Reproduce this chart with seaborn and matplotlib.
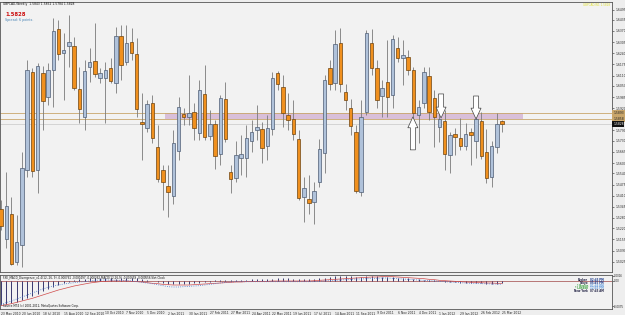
import matplotlib
matplotlib.use("Agg")
import matplotlib.pyplot as plt
import matplotlib.transforms as mtransforms
import numpy as np
import pandas as pd
import seaborn as sns

# GBPCAD weekly candles, 23 May 2010 .. 25 Mar 2012
opens = [1.5333, 1.5158, 1.5303, 1.5024, 1.5123, 1.5560, 1.6131, 1.5560, 1.6125, 1.5985,
         1.6143, 1.6382, 1.6242, 1.6283, 1.6283, 1.6032, 1.5869, 1.6160, 1.6195, 1.6096,
         1.6096, 1.6155, 1.6067, 1.6341, 1.6190, 1.6306, 1.6236, 1.5840, 1.5805, 1.5951,
         1.5694, 1.5560, 1.5467, 1.5408, 1.5671, 1.5886, 1.5869, 1.5898, 1.5776, 1.6003,
         1.5758, 1.5828, 1.5653, 1.5974, 1.5548, 1.5513, 1.5630, 1.5630, 1.5729, 1.5793,
         1.5799, 1.5700, 1.5799, 1.6125, 1.6044, 1.5881, 1.5857, 1.5741, 1.5403, 1.5391,
         1.5373, 1.5490, 1.5659, 1.6155, 1.6067, 1.6300, 1.6015, 1.5921, 1.5781, 1.5432,
         1.5898, 1.6300, 1.6155, 1.5991, 1.6073, 1.5997, 1.6271, 1.6213, 1.6219, 1.6143,
         1.5881, 1.5951, 1.6108, 1.5980, 1.5811, 1.5846, 1.5647, 1.5770, 1.5747, 1.5700,
         1.5781, 1.5729, 1.5846, 1.5665, 1.5519, 1.5694, 1.5843]
highs = [1.5385, 1.5548, 1.5403, 1.5298, 1.5665, 1.6201, 1.6155, 1.6184, 1.6166, 1.6184,
         1.6446, 1.6434, 1.6359, 1.6464, 1.6335, 1.6160, 1.6201, 1.6271, 1.6417, 1.6155,
         1.6190, 1.6213, 1.6394, 1.6405, 1.6405, 1.6388, 1.6329, 1.6009, 1.5968, 1.5997,
         1.5822, 1.5589, 1.5589, 1.5793, 1.5985, 1.5921, 1.6114, 1.5951, 1.6085, 1.6172,
         1.5910, 1.5851, 1.5997, 1.6073, 1.5589, 1.5729, 1.5764, 1.5822, 1.5851, 1.5939,
         1.5840, 1.5881, 1.6131, 1.6137, 1.6114, 1.6009, 1.5968, 1.5793, 1.5519, 1.5531,
         1.5490, 1.5741, 1.6114, 1.6201, 1.6376, 1.6388, 1.6061, 1.5974, 1.5822, 1.5968,
         1.6376, 1.6382, 1.6201, 1.6085, 1.6318, 1.6347, 1.6335, 1.6318, 1.6260, 1.6160,
         1.5968, 1.6160, 1.6160, 1.6026, 1.5898, 1.5910, 1.5781, 1.5805, 1.5863, 1.5834,
         1.5805, 1.5910, 1.5898, 1.5799, 1.5729, 1.5892, 1.5852]
lows = [1.5210, 1.5105, 1.5006, 1.5006, 1.4994, 1.5519, 1.5519, 1.5426, 1.5793, 1.5939,
        1.5927, 1.6201, 1.5968, 1.6160, 1.6026, 1.5834, 1.5793, 1.6073, 1.6102, 1.6067,
        1.5834, 1.6067, 1.6009, 1.6085, 1.6172, 1.6201, 1.5869, 1.5618, 1.5781, 1.5717,
        1.5490, 1.5327, 1.5286, 1.5362, 1.5618, 1.5822, 1.5822, 1.5735, 1.5735, 1.5735,
        1.5735, 1.5566, 1.5589, 1.5723, 1.5426, 1.5490, 1.5531, 1.5519, 1.5665, 1.5735,
        1.5601, 1.5618, 1.5764, 1.6026, 1.5811, 1.5793, 1.5735, 1.5385, 1.5257, 1.5303,
        1.5245, 1.5461, 1.5542, 1.6026, 1.6026, 1.6015, 1.5910, 1.5764, 1.5426, 1.5408,
        1.5881, 1.6114, 1.5921, 1.5869, 1.5869, 1.5921, 1.6190, 1.6055, 1.6114, 1.5863,
        1.5717, 1.5921, 1.5851, 1.5694, 1.5723, 1.5560, 1.5542, 1.5647, 1.5677, 1.5677,
        1.5589, 1.5630, 1.5624, 1.5484, 1.5461, 1.5659, 1.5784]
closes = [1.5233, 1.5350, 1.5012, 1.5140, 1.5572, 1.6143, 1.5554, 1.6166, 1.5962, 1.6143,
          1.6370, 1.6236, 1.6260, 1.6306, 1.6038, 1.5916, 1.6137, 1.6190, 1.6120, 1.6125,
          1.6143, 1.6079, 1.6341, 1.6172, 1.6300, 1.6242, 1.5916, 1.5828, 1.5945, 1.5747,
          1.5507, 1.5490, 1.5432, 1.5717, 1.5927, 1.5869, 1.5892, 1.5805, 1.6026, 1.5752,
          1.5828, 1.5642, 1.5980, 1.5741, 1.5507, 1.5647, 1.5653, 1.5747, 1.5781, 1.5811,
          1.5688, 1.5805, 1.6096, 1.6061, 1.5892, 1.5851, 1.5770, 1.5397, 1.5455, 1.5368,
          1.5438, 1.5682, 1.6085, 1.6061, 1.6294, 1.6061, 1.5968, 1.5816, 1.5438, 1.5869,
          1.6359, 1.6155, 1.5968, 1.6038, 1.5985, 1.6324, 1.6213, 1.6230, 1.6143, 1.5892,
          1.5927, 1.6131, 1.5898, 1.5869, 1.5857, 1.5653, 1.5764, 1.5752, 1.5700, 1.5770,
          1.5764, 1.5857, 1.5642, 1.5513, 1.5700, 1.5828, 1.5828]

# MACD divergence sub-window (units of 0.001)
macd_hist = [-7.2, -7.0, -6.7, -6.3, -5.8, -5.2, -4.5, -3.8, -3.1, -2.4, -1.8, -1.2, -0.7,
             -0.3, 0.2, 0.5, 0.7, 0.8, 0.9, 0.9, 0.8, 0.8, 0.7, 0.8, 0.9, 0.9, 0.8, 0.6, 0.4, 0.1,
             -0.3, -0.6, -0.9, -1.0, -1.0, -0.9, -0.8, -0.7, -0.6, -0.4, -0.2,
             0.2, 0.3, 0.4, 0.4, 0.3, 0.3, 0.4, 0.5, 0.5, 0.6, 0.6, 0.7, 0.8, 0.8, 0.8, 0.7, 0.6, 0.5, 0.5, 0.6,
             0.8, 1.0, 1.2, 1.4, 1.5, 1.5, 1.4, 1.3, 1.3, 1.4, 1.5, 1.4, 1.3, 1.2, 1.1, 1.0, 0.9, 0.8, 0.6, 0.5,
             0.4, 0.3, 0.2, 0.0, -0.2, -0.3, -0.4, -0.5, -0.5, -0.6, -0.6, -0.7, -0.8, -0.8, -0.8, -0.7]
macd_main = [-7.0, -6.5, -6.0, -5.4, -4.8, -4.2, -3.6, -3.0, -2.4, -1.9,
             -1.5, -1.2, -0.9, -0.7, -0.5, -0.3, -0.2, 0.0, 0.2, 0.3,
             0.3, 0.3, 0.2, 0.2, 0.1, 0.0, -0.2, -0.4, -0.6, -0.8,
             -1.1, -1.4, -1.7, -1.8, -1.8, -1.7, -1.6, -1.5, -1.4, -1.2,
             -1.0, -0.8, -0.6, -0.4, -0.3, -0.2, -0.2, -0.2, -0.2, -0.2,
             -0.2, -0.2, -0.2, -0.2, -0.2, -0.2, -0.2, -0.2, -0.2, -0.2,
             -0.2, -0.1, 0.0, 0.1, 0.2, 0.3, 0.4, 0.5, 0.6, 0.6,
             0.7, 0.8, 0.8, 0.9, 0.9, 0.8, 0.7, 0.6, 0.5, 0.4,
             0.3, 0.2, 0.1, 0.0, -0.1, -0.2, -0.3, -0.4, -0.5, -0.6,
             -0.7, -0.7, -0.8, -0.8, -0.9, -0.9, -1.0]
macd_signal = [-7.4, -7.1, -6.8, -6.4, -6.0, -5.6, -5.2, -4.7, -4.2, -3.7,
               -3.2, -2.7, -2.3, -1.9, -1.5, -1.2, -0.9, -0.6, -0.4, -0.2,
               -0.1, 0.0, 0.0, 0.0, 0.0, -0.1, -0.2, -0.3, -0.5, -0.7,
               -0.8, -1.0, -1.1, -1.2, -1.2, -1.2, -1.2, -1.1, -1.0, -0.9,
               -0.8, -0.7, -0.6, -0.5, -0.4, -0.3, -0.3, -0.2, -0.2, -0.1,
               -0.1, -0.1, 0.0, 0.0, 0.0, 0.0, 0.0, 0.0, 0.0, 0.0,
               0.1, 0.2, 0.3, 0.4, 0.5, 0.6, 0.7, 0.8, 0.9, 1.0,
               1.1, 1.2, 1.2, 1.3, 1.3, 1.3, 1.2, 1.1, 1.0, 0.9,
               0.8, 0.7, 0.5, 0.4, 0.2, 0.1, 0.0, -0.1, -0.2, -0.3,
               -0.4, -0.5, -0.5, -0.6, -0.6, -0.7, -0.7]

price_ticks = [1.6495, 1.6435, 1.6370, 1.6305, 1.6240, 1.6175, 1.6110, 1.6050, 1.5985,
               1.5920, 1.5790, 1.5730, 1.5665, 1.5600, 1.5540, 1.5475, 1.5410, 1.5345,
               1.5280, 1.5220, 1.5155, 1.5090, 1.5025]
zone_high, zone_low = 1.5893, 1.5858
last_price = 1.5828
zone_span = (31.5, 100.0)  # weeks covered by the shaded zone

# hand-drawn arrows: week, tail price, tip price
arrow_week = [78.9, 84.3, 91.0]
arrow_tail = [1.5677, 1.6003, 1.5991]
arrow_tip = [1.5869, 1.5863, 1.5857]

weeks = pd.date_range("2010-05-23", periods=len(opens), freq="7D")
date_ticks = list(range(0, len(opens), 4))
date_labels = [f"{weeks[i].day} {weeks[i]:%b %Y}" for i in date_ticks]

sns.set_theme(style="white", rc={"axes.facecolor": "#f2f2f2", "figure.facecolor": "#eeeeee"})
plt.rcParams["font.family"] = ["DejaVu Sans"]

W, H = 625, 315
fig = plt.figure(figsize=(W / 100, H / 100), dpi=100)
ax = fig.add_axes([0, 43 / H, 612 / W, 270 / H])
ax2 = fig.add_axes([0, 6 / H, 612 / W, 34 / H])

x = np.arange(len(opens))
o, h, l, c = (np.array(a) for a in (opens, highs, lows, closes))
up = c > o

# zone + levels
ax.fill_between(zone_span, zone_low, zone_high, color="#d9bfd9", lw=0, zorder=1)
for lvl in (zone_high, zone_low):
    ax.axhline(lvl, color="#c9a66b", lw=0.6, zorder=1.5)
ax.axhline(last_price, color="#c8c8c8", lw=0.5, zorder=1.2)

# candles
ax.vlines(x, l, h, color="#7a7a7a", lw=0.6, zorder=2)
ax.bar(x[up], (c - o)[up], bottom=o[up], width=0.66, color="#b0c2da",
       edgecolor="#4e5d74", lw=0.5, zorder=3)
ax.bar(x[~up], np.maximum((o - c)[~up], 0.0002), bottom=c[~up], width=0.66,
       color="#f0901e", edgecolor="#6e4410", lw=0.5, zorder=3)

for xw, ytail, ytip in zip(arrow_week, arrow_tail, arrow_tip):
    ax.annotate("", xy=(xw, ytip), xytext=(xw, ytail), zorder=4,
                arrowprops=dict(arrowstyle="simple,head_length=1.3,head_width=1.2,tail_width=0.6",
                                fc="white", ec="#444444", lw=0.5, mutation_scale=6,
                                shrinkA=0, shrinkB=0))

ax.set_xlim(-0.2, 117.05)
ax.set_ylim(1.4965, 1.6539)
ax.set_xticks([])
ax.yaxis.tick_right()
ax.set_yticks(price_ticks)
ax.set_yticklabels([f"{v:.4f}" for v in price_ticks], fontsize=2.2)
ax.tick_params(axis="y", length=1.5, width=0.4, pad=0.8, colors="#222222")
for s in ax.spines.values():
    s.set_color("#555555")
    s.set_linewidth(0.6)

# right-axis price boxes
tr = mtransforms.blended_transform_factory(ax.transAxes, ax.transData)
for val, fc, tc in ((zone_high, "#c9a66b", "#222222"), (zone_low, "#c9a66b", "#222222"),
                    (last_price, "#111111", "white")):
    ax.text(1.002, val, f"{val:.4f}", transform=tr, fontsize=2.2, color=tc, va="center",
            ha="left", bbox=dict(boxstyle="square,pad=0.25", fc=fc, ec="none"), clip_on=False)

# indicator window
ax2.axhline(0, color="#8b1a1a", lw=0.4)
ax2.vlines(x, 0, macd_hist, color="#1c1c5a", lw=0.6)
sns.lineplot(x=x, y=macd_signal, ax=ax2, color="#d04a4a", lw=0.5)
sns.lineplot(x=x, y=macd_main, ax=ax2, color="#4a7bd0", lw=0.6, linestyle=":")
ax2.set_xlim(-0.2, 117.05)
ax2.set_ylim(-8.4, 1.8)
ax2.yaxis.tick_right()
ax2.set_yticks([1.6, 0, -7.5])
ax2.set_yticklabels(["0.0016", "0.00", "-0.0075"], fontsize=1.9)
ax2.tick_params(axis="y", length=1.2, width=0.4, pad=0.5, colors="#222222")
ax2.set_xticks(date_ticks)
ax2.set_xticklabels(date_labels, fontsize=2.2, ha="left")
ax2.tick_params(axis="x", length=1.2, width=0.4, pad=0.6, colors="#222222")
ax2.set_ylabel("")
for s in ax2.spines.values():
    s.set_color("#555555")
    s.set_linewidth(0.6)

def px(xp, yp):
    return xp / W, 1 - yp / H

fig.text(*px(3, 4.5), "GBPCAD,Weekly  1.5843 1.5852 1.5784 1.5828", fontsize=2.2,
         color="#111111", va="center")
fig.text(*px(5, 14), "1.5828", fontsize=3.8, color="#cc1010", fontweight="bold", va="center")
fig.text(*px(5, 20.5), "Spread: 6 points.", fontsize=2.4, color="#4682b4", va="center")
fig.text(*px(610, 4.5), "GBPCAD,W1 1.5828", fontsize=2.0, color="#e0e030", va="center", ha="right")
fig.text(*px(3, 278), "FXE_MACD_Divergence_v1.4(12, 26, 9) -0.000761 -0.000497 -0.000262 "
         "MACD(12,26,9) -0.000659 -0.000556 Slot Clock", fontsize=2.0, color="#111111", va="center")
fig.text(*px(3, 306), "Source MT4 (c) 2001-2012, MetaQuotes Software Corp.", fontsize=2.0,
         color="#111111", va="center")

clock_names = ["Broker", "Tokyo", "* Berlin", "* London", "New York"]
clock_times = ["02:45 PM", "05:45 PM", "01:45 PM", "12:45 PM", "07:45 AM"]
name_colors = ["#222244", "#222244", "#3aa040", "#3aa040", "#222244"]
time_colors = ["#1a3a8a", "#1a3a8a", "#6aa0e0", "#6aa0e0", "#222244"]
for k, (nm, tm, nc, tc) in enumerate(zip(clock_names, clock_times, name_colors, time_colors)):
    yy = 280 + 2.8 * k
    fig.text(*px(588, yy), nm, fontsize=1.9, color=nc, ha="right", va="center", fontweight="bold")
    fig.text(*px(590, yy), tm, fontsize=1.9, color=tc, ha="left", va="center", fontweight="bold")

fig.savefig("out.png", dpi=100, facecolor=fig.get_facecolor())
